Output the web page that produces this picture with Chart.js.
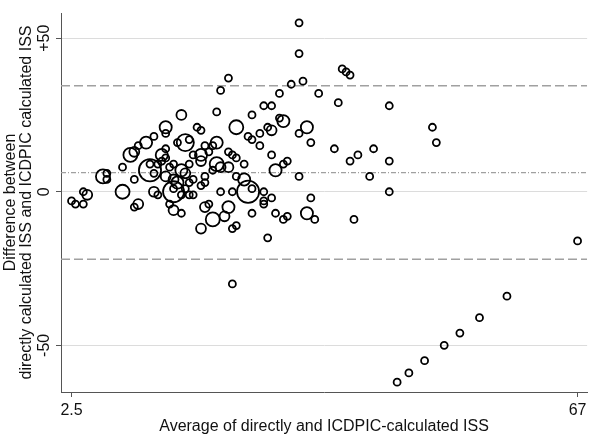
<!DOCTYPE html>
<html><head><meta charset="utf-8">
<script src="https://cdn.jsdelivr.net/npm/chart.js@4.4.1/dist/chart.umd.min.js"></script>
<style>html,body{margin:0;padding:0;background:#fff;}#wrap{width:600px;height:439px;}</style>
</head><body><div id="wrap"><canvas id="c" width="600" height="439"></canvas></div>
<script>
// Average of directly and ICDPIC-calculated ISS
const avgISS = [2.5,3,4,4,4.5,6.5,7,7,9,9,10.5,11,10.5,10,10.5,11,12,13,12.5,12.5,13,13.5,14,14,14.5,14.5,14.5,14.5,14.5,15.5,15.5,16.5,16.5,17,16.5,16,17.5,18.5,19,18,19,19,18,17.5,18,19,19.5,19.5,19.5,20.5,20,21,21,21,21.5,22.5,22.5,23,23.5,21.5,20.5,23.5,25,25.5,24.5,25,25.5,24.5,25.5,26.5,26.5,27,27,27,28,27.5,28,28,28.5,29,29.5,29,29.5,30,30.5,28,28.5,29.5,30,31.5,31.5,32,34,36.5,37,37.5,38,43,31.5,32.5,33,36,38,39,41,40.5,43,43,48.5,49,31.5,33,32.5,33.5,38.5,67,58,54.5,52,50,47.5,45.5,44,23,27.5,19,20.5,22,22.5,23,23.5,25.5,16.5,15.5,15,19.5,20,16,15.5,17,17.5,21.5,23,23.5,15.5,15,17,27,22.5,13,13.5,17.5];
// Difference between directly calculated ISS and ICDPIC calculated ISS
const diffISS = [-3,-4,-4,0,-1,5,6,4,8,0,4,-4,-5,12,13,15,16,18,7,9,6,9,10,12,14,11,19,21,5,4,0,-1,7,16,25,16,17,21,20,12,12,10,-1,3,4,2,5,3,15,15,13,16,9,26,33,37,13,12,11,8,7,21,18,17,4,0,1,9,25,19,15,0,-4,28,28,21,20,12,7,32,23,24,9,10,35,-2,-7,-9,-8,55,45,36,32,29,40,39,38,28,19,21,16,14,10,12,14,5,10,0,21,16,5,-2,-7,-9,-9,-16,-34,-41,-46,-50,-55,-59,-62,-30,-15,-12,-9,-8,-5,-12,-11,-7,-7,-6,-4,-5,-4,3,1,1,-1,0,0,5,9,8,6,-3,8,0,-1,9];
// Number of patients sharing each point (marker weight)
const counts = [1,1,1,1,2,4,1,1,1,4,1,2,1,4,2,1,3,1,10,1,1,1,1,3,1,1,1,3,2,2,9,1,3,6,2,1,1,1,1,1,3,2,1,1,1,1,1,1,1,1,1,3,4,1,1,1,1,1,1,2,1,4,1,1,3,10,1,1,1,1,1,1,1,1,1,1,2,1,3,1,3,1,1,1,1,1,1,1,1,1,1,1,1,1,1,1,1,1,1,3,1,1,1,1,1,1,1,1,1,1,1,1,3,1,1,1,1,1,1,1,1,1,1,1,1,2,4,2,3,1,1,1,1,2,1,2,1,3,1,1,1,1,1,1,1,1,2,1,2,2,1,1];
const meanDiff = 6.2;
const upperLimit = 34.5;
const lowerLimit = -22;
const xTicks = [2.5, 67];
const xTickLabels = ['2.5', '67'];
const yTicks = [-50, 0, 50];
const yTickLabels = ['-50', '0', '+50'];
const xMin = 1.155, xMax = 68.22, yMin = -65.2, yMax = 58.2;

const FONT = '"Liberation Sans", Arial, sans-serif';
const TXT = '#111';

const bubbles = avgISS.map((x, i) => ({ x: x, y: diffISS[i], r: 3.5 * Math.sqrt(counts[i]) }));
function hline(v) { return [{ x: xMin, y: v }, { x: xMax, y: v }]; }

const yLabelPlugin = {
  id: 'yLabels',
  afterDraw(chart) {
    const ctx = chart.ctx, s = chart.scales.y;
    ctx.save();
    ctx.font = '16px ' + FONT;
    ctx.fillStyle = TXT;
    ctx.textAlign = 'center';
    ctx.textBaseline = 'middle';
    yTicks.forEach((v, i) => {
      const y = s.getPixelForValue(v);
      ctx.save();
      ctx.translate(45, y);
      ctx.rotate(-Math.PI / 2);
      ctx.fillText(yTickLabels[i], 0, 0);
      ctx.restore();
    });
    ctx.restore();
  }
};

new Chart(document.getElementById('c'), {
  type: 'bubble',
  data: {
    datasets: [
      { type: 'line', data: hline(upperLimit), borderColor: '#a0a0a0', borderWidth: 1.5, borderDash: [9, 4], pointRadius: 0, order: 2 },
      { type: 'line', data: hline(meanDiff), borderColor: '#a0a0a0', borderWidth: 1.2, borderDash: [5, 2, 1, 2], pointRadius: 0, order: 2 },
      { type: 'line', data: hline(lowerLimit), borderColor: '#a0a0a0', borderWidth: 1.5, borderDash: [9, 4], pointRadius: 0, order: 2 },
      { type: 'bubble', data: bubbles, borderColor: '#000', backgroundColor: 'rgba(0,0,0,0)', borderWidth: 1.8, order: 1 }
    ]
  },
  options: {
    responsive: false,
    animation: false,
    devicePixelRatio: 1,
    layout: { padding: { top: 13, right: 5, left: 0, bottom: 0 } },
    plugins: { legend: { display: false }, tooltip: { enabled: false } },
    scales: {
      x: {
        type: 'linear', position: 'bottom', min: xMin, max: xMax,
        afterBuildTicks: s => { s.ticks = xTicks.map(v => ({ value: v })); },
        afterFit: s => { s.height = 47; },
        ticks: { autoSkip: false, maxRotation: 0, padding: 4, color: TXT, font: { family: FONT, size: 16 },
                 callback: (v) => xTickLabels[xTicks.indexOf(v)] },
        grid: { drawOnChartArea: false, tickLength: 5, tickColor: '#555', color: '#555' },
        border: { color: '#555', width: 1 },
        title: { display: true, text: 'Average of directly and ICDPIC-calculated ISS', color: TXT,
                 font: { family: FONT, size: 16, lineHeight: 1.2 }, padding: { top: 0, bottom: 3 } }
      },
      y: {
        type: 'linear', position: 'left', min: yMin, max: yMax,
        afterBuildTicks: s => { s.ticks = yTicks.map(v => ({ value: v })); },
        afterFit: s => { s.width = 61; },
        ticks: { display: false },
        grid: { drawOnChartArea: true, color: '#dcdcdc', tickColor: '#555', tickLength: 5, lineWidth: 1 },
        border: { color: '#555', width: 1 },
        title: { display: true, text: ['Difference between', 'directly calculated ISS and ICDPIC calculated ISS'],
                 color: TXT, font: { family: FONT, size: 16, lineHeight: 1.0 }, padding: { top: 2.5 } }
      }
    }
  },
  plugins: [yLabelPlugin]
});
</script></body></html>
